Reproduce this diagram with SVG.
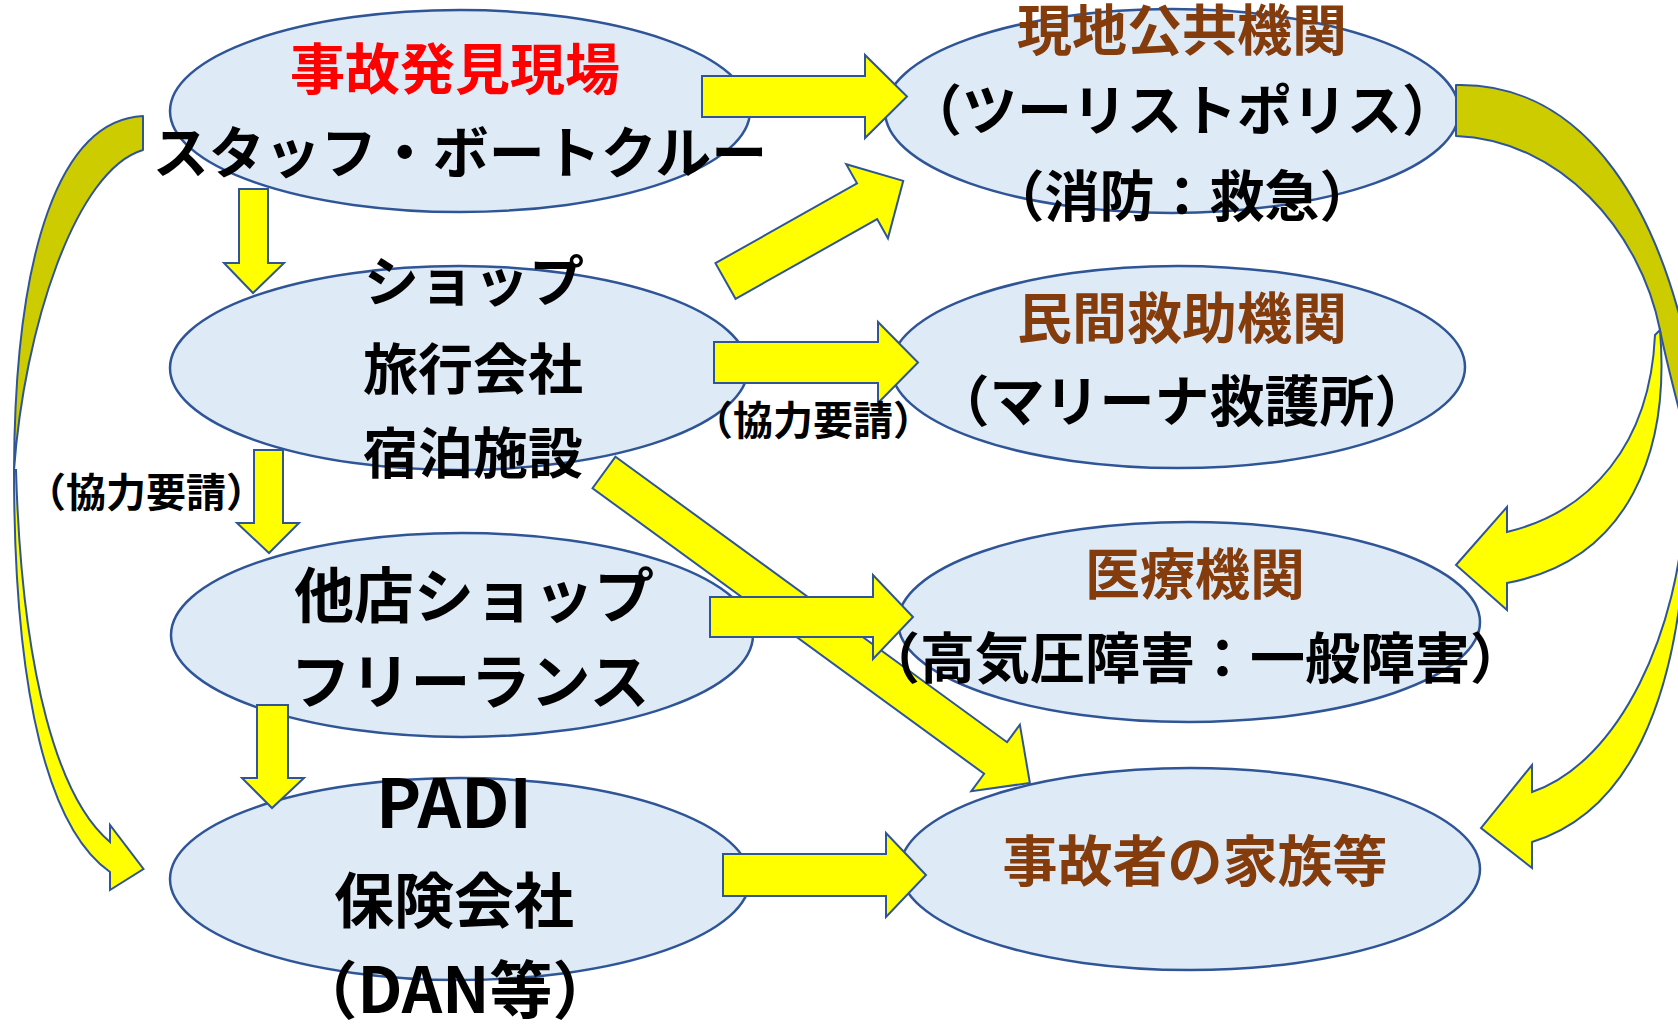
<svg xmlns="http://www.w3.org/2000/svg" width="1678" height="1026" viewBox="0 0 1678 1026">
<style>
.node ellipse{fill:#DEEBF7;stroke:#2F5597;stroke-width:2.5}
text{font-family:"Noto Sans CJK JP","Noto Sans CJK SC",sans-serif;font-weight:bold;text-anchor:middle}
.t55{font-size:55px}
.t60{font-size:60px}
.red{fill:#FF0000}
.brown{fill:#843C0C}
.blk{fill:#000000}
.arr{fill:#FFFF00;stroke:#2F5597;stroke-width:2;stroke-linejoin:miter}
.shade{fill:#CCCC00;stroke:#2F5597;stroke-width:2;stroke-linejoin:round}
.small{font-size:40px;fill:#000}
</style>
<rect width="1678" height="1026" fill="#FFFFFF"/>
<g id="nodes">
<g id="n1" class="node"><ellipse cx="460" cy="111" rx="290" ry="101"/></g>
<g id="n2" class="node"><ellipse cx="459" cy="368" rx="289" ry="102"/></g>
<g id="n3" class="node"><ellipse cx="462" cy="635" rx="291" ry="102"/></g>
<g id="n4" class="node"><ellipse cx="460" cy="879" rx="290" ry="101"/></g>
<g id="n5" class="node"><ellipse cx="1172" cy="111" rx="287" ry="102"/></g>
<g id="n6" class="node"><ellipse cx="1178" cy="367" rx="287" ry="101"/></g>
<g id="n7" class="node"><ellipse cx="1189" cy="622" rx="291" ry="100"/></g>
<g id="n8" class="node"><ellipse cx="1190" cy="869" rx="290" ry="101"/></g>
</g>
<g id="connectors">
<path class="shade" d="M143,116 C60,120 15,250 14,470 C24,330 75,170 143,150 Z"/>
<path class="arr" d="M14,470 C14,700 50,830 110,872 L110,890 L143.5,869 L110,825 L110,842 C60,800 22,680 16,470 Z"/>
<path class="shade" d="M1456,85 C1580,82 1670,200 1700,420 L1692,460 C1682,420 1668,370 1660,330 C1640,230 1560,140 1456,136 Z"/>
<path class="arr" d="M1660,330 C1670,450 1630,560 1507,583 L1507,610 L1456,565 L1507,507 L1507,532 C1590,512 1650,445 1655,335 Z"/>
<path class="arr" d="M1685,500 C1680,630 1620,762 1532,792 L1532,765 L1481,828 L1532,868 L1532,842 C1630,812 1675,700 1685,550 Z"/>
<polygon class="arr" points="702,76 865,76 865,55 907,96.5 865,138 865,117 702,117"/>
<polygon class="arr" points="714,342 878,342 878,322 918,362.5 878,403 878,383 714,383"/>
<polygon class="arr" transform="translate(604,472.5) rotate(36.09)" points="0,-19.5 484.6,-19.5 484.6,-41.2 527,0 484.6,41.2 484.6,19.5 0,19.5"/>
<polygon class="arr" points="710,597 873,597 873,575 913,617 873,659 873,637 710,637"/>
<polygon class="arr" points="723,854 886,854 886,833 926,875 886,917 886,896 723,896"/>
<polygon class="arr" transform="translate(725.5,281) rotate(-29.4)" points="0,-20.5 162.5,-20.5 162.5,-42.5 204,0 162.5,42.5 162.5,20.5 0,20.5"/>
<polygon class="arr" points="239,189 268,189 268,263 284,263 253,293 224,263 239,263"/>
<polygon class="arr" points="254,450 283,450 283,523 299,523 269,553 237,523 254,523"/>
<polygon class="arr" points="257,705 288,705 288,778 304,778 272,808 242,778 257,778"/>
</g>
<g id="labels">
<text class="t55 red" x="455" y="89">事故発見現場</text>
<text class="blk" style="font-size:56px" x="460" y="173">スタッフ・ボートクルー</text>
<text class="t55 blk" x="474" y="301">ショップ</text>
<text class="t55 blk" x="473" y="389">旅行会社</text>
<text class="t55 blk" x="473" y="473">宿泊施設</text>
<text class="t60 blk" x="474" y="618">他店ショップ</text>
<text class="t60 blk" x="470" y="704">フリーランス</text>
<text class="blk" style="font-size:68px" x="454" y="828">PADI</text>
<text class="t60 blk" x="454" y="923">保険会社</text>
<text class="blk" style="font-size:63px" x="455" y="1013">（DAN等）</text>
<text class="t55 brown" x="1182" y="50">現地公共機関</text>
<text class="t55 blk" x="1182" y="130">（ツーリストポリス）</text>
<text class="t55 blk" x="1182" y="216">（消防：救急）</text>
<text class="t55 brown" x="1182" y="338">民間救助機関</text>
<text class="t55 blk" x="1182" y="421">（マリーナ救護所）</text>
<text class="t55 brown" x="1195" y="594">医療機関</text>
<text class="t55 blk" x="1195" y="678">（高気圧障害：一般障害）</text>
<text class="t55 brown" x="1195" y="881">事故者の家族等</text>
<text class="small" x="146" y="507">（協力要請）</text>
<text class="small" x="813" y="435">（協力要請）</text>
</g>
</svg>
